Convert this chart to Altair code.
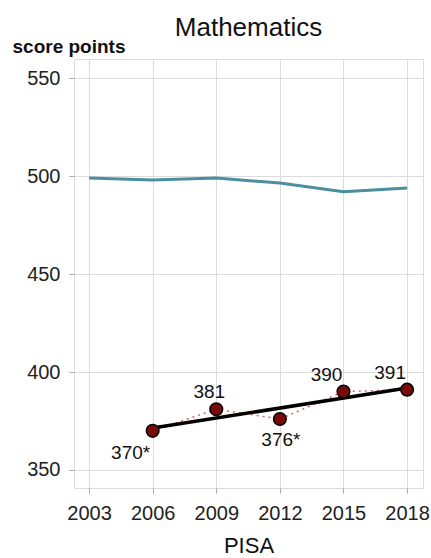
import altair as alt
import pandas as pd

years = [2003, 2006, 2009, 2012, 2015, 2018]
oecd_avg = [499, 498, 499, 496.5, 492, 494]

country_years = [2006, 2009, 2012, 2015, 2018]
country_scores = [370, 381, 376, 390, 391]
country_labels = ["370*", "381", "376*", "390", "391"]
label_side = ["below-left", "above", "below", "above-left", "above-left"]

tick_years = [2003, 2006, 2009, 2012, 2015, 2018]
grid_years = [2003, 2004.5, 2006, 2007.5, 2009, 2010.5, 2012, 2013.5, 2015, 2016.5, 2018]
y_ticks = [350, 400, 450, 500, 550]

FONT = "Liberation Sans"

oecd = pd.DataFrame({"year": years, "score": oecd_avg})
ctry = pd.DataFrame({"year": country_years, "score": country_scores,
                     "label": country_labels, "side": label_side})

xscale = alt.Scale(domain=[2002.29, 2018.75], nice=False, zero=False)
yscale = alt.Scale(domain=[340.8, 559.8], nice=False, zero=False)

xaxis = alt.Axis(values=grid_years, labelExpr="(datum.value - 2003) % 3 == 0 ? format(datum.value, 'd') : ''",
                 title="PISA", titleFontSize=22, titleFont=FONT, titleFontWeight="normal",
                 titleColor="#111", titlePadding=12,
                 labelFont=FONT, labelFontSize=20, labelColor="#222", labelPadding=10,
                 tickSize=5, tickColor="#aaa", domain=False, grid=True, gridColor="#dcdcdc")
yaxis = alt.Axis(values=y_ticks, title="score points", titleAngle=0, titleAlign="left",
                 titleBaseline="alphabetic", titleX=-62, titleY=-7,
                 titleFont=FONT, titleFontSize=19, titleFontWeight="bold", titleColor="#111",
                 labelFont=FONT, labelFontSize=20, labelColor="#222", labelPadding=9,
                 tickSize=5, tickColor="#aaa", domain=False, grid=True, gridColor="#dcdcdc")

base_o = alt.Chart(oecd)
base_c = alt.Chart(ctry)

teal = base_o.mark_line(color="#4b8e9e", strokeWidth=3).encode(
    x=alt.X("year:Q", scale=xscale, axis=xaxis),
    y=alt.Y("score:Q", scale=yscale, axis=yaxis),
)

dotted = base_c.mark_line(color="#e06060", strokeWidth=1.5, strokeDash=[2, 4]).encode(
    x=alt.X("year:Q", scale=xscale), y=alt.Y("score:Q", scale=yscale))

trend = base_c.transform_regression("year", "score").mark_line(color="black", strokeWidth=3.5).encode(
    x=alt.X("year:Q", scale=xscale), y=alt.Y("score:Q", scale=yscale))

pts = base_c.mark_point(filled=True, fill="#7a0a0a", stroke="black", strokeWidth=1.5,
                        size=160, opacity=1, shape="circle").encode(
    x=alt.X("year:Q", scale=xscale), y=alt.Y("score:Q", scale=yscale))

def lbl(side, dx, dy, align):
    return base_c.transform_filter(alt.datum.side == side).mark_text(
        font=FONT, fontSize=19, color="#111", dx=dx, dy=dy, align=align, baseline="middle").encode(
        x=alt.X("year:Q", scale=xscale), y=alt.Y("score:Q", scale=yscale), text="label:N")

labels = alt.layer(
    lbl("below-left", -22, 22, "center"),
    lbl("above", -7, -17, "center"),
    lbl("below", 1, 21, "center"),
    lbl("above-left", -17, -17, "center"),
)

chart = alt.layer(teal, dotted, trend, pts, labels).properties(
    width=349, height=429,
    title=alt.TitleParams("Mathematics", font=FONT, fontSize=26, fontWeight="normal",
                          color="#111", anchor="middle", offset=4, dy=8),
    autosize=alt.AutoSizeParams(type="none"),
    padding={"left": 74, "top": 59, "right": 8, "bottom": 70},
).configure_view(stroke="#999", strokeWidth=1.5).configure(background="white")

chart.save("out.html", embed_options={"renderer": "svg", "actions": False})
